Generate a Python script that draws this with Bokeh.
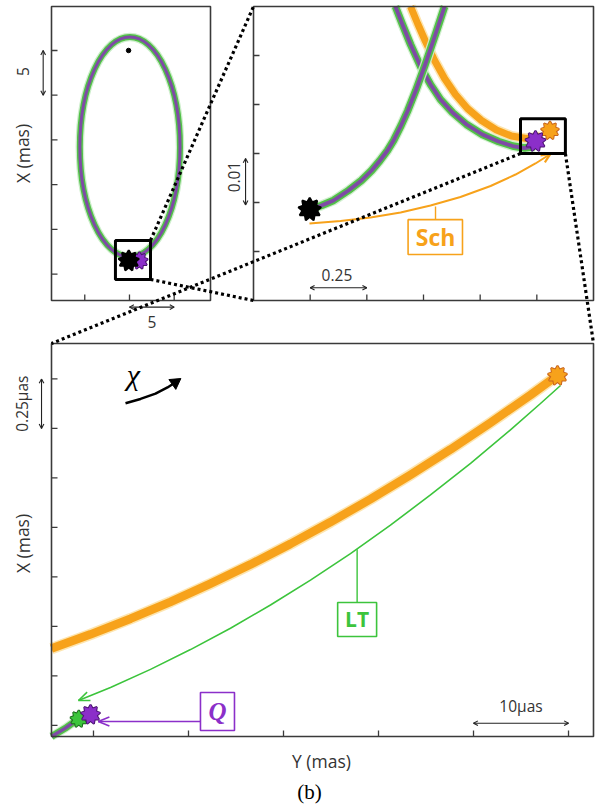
import numpy as np
from bokeh.plotting import figure
from bokeh.models import Range1d
from bokeh.core.properties import value
from bokeh.embed import file_html
from bokeh.resources import INLINE

FONT = "Open Sans"
SERIF = "Liberation Serif"
FRAME = "#3a3a3a"
TXT = "#333333"
PURPLE, PURPLE_EDGE, PURPLE_LINE = "#8b2fc9", "#4a1470", "#7f4aa6"
ORANGE, ORANGE_EDGE, ORANGE_HALO = "#f7a21b", "#c8641e", "#fde2a6"
GREEN, GREEN_EDGE, GREEN_HALO = "#3cc43c", "#1d6b1d", "#cdeecb"

# ---------------- page (pixels) ----------------
PAGE_X = (0, 598)
PAGE_Y = (0, 807)

# ---------------- panel A : whole orbit, Y / X in mas ----------------
A_Y_RANGE = (-8.72, 9.06)
A_X_RANGE = (-27.96, 4.92)
A_Y_TICKS = [-5, 0, 5]
A_X_TICKS = [0, -5, -10, -15, -20, -25]
A_ORBIT_Y, A_ORBIT_X = 0.05, -10.8
A_ORBIT_W, A_ORBIT_H = 11.2, 24.6
A_FOCUS_Y, A_FOCUS_X = [-0.1], [0.0]
A_BOX = dict(left=-1.57, right=2.35, bottom=-25.6, top=-21.25)
A_STAR_Y = [1.1, -0.08]
A_STAR_X = [-23.5, -23.5]
A_STAR_FILL = [PURPLE, "#000000"]
A_STAR_EDGE = [PURPLE_EDGE, "#000000"]
A_STAR_SIZE = [15, 18]

# ---------------- panel B : zoom on pericentre, mas ----------------
B_Y_RANGE = (0.0, 1.5)
B_X_RANGE = (0.0, 0.06)
B_Y_TICKS = [0.25, 0.5, 0.75, 1.0, 1.25]
B_X_TICKS = [0.01, 0.02, 0.03, 0.04, 0.05]
B_RISE_Y = [0.247, 0.300, 0.353, 0.419, 0.476, 0.521, 0.558, 0.591, 0.618, 0.651, 0.681,
            0.716, 0.756, 0.804, 0.843]
B_RISE_X = [0.01857, 0.01939, 0.02041, 0.02245, 0.02449, 0.02653, 0.02857, 0.03061, 0.03265,
            0.03571, 0.03878, 0.04286, 0.04796, 0.05449, 0.06]
B_DESC_Y = [0.626, 0.657, 0.693, 0.737, 0.781, 0.825, 0.878, 0.940, 1.010, 1.081, 1.143,
            1.196, 1.240]
B_DESC_X = [0.06, 0.05633, 0.05224, 0.04776, 0.04408, 0.04102, 0.03837, 0.03592, 0.03388,
            0.03245, 0.03153, 0.03112, 0.03143]
B_SCH_Y = [0.693, 0.724, 0.759, 0.799, 0.843, 0.891, 0.944, 1.006, 1.072, 1.138, 1.204, 1.266]
B_SCH_X = [0.06, 0.05653, 0.05286, 0.04898, 0.04531, 0.04204, 0.03918, 0.03673, 0.03480,
           0.03357, 0.03306, 0.03347]
B_BOX = dict(left=1.178, right=1.376, bottom=0.0300, top=0.0371)
B_STAR_Y = [0.248, 1.308, 1.244]
B_STAR_X = [0.0186, 0.0347, 0.0325]
B_STAR_FILL = ["#000000", ORANGE, PURPLE]
B_STAR_EDGE = ["#000000", ORANGE_EDGE, PURPLE_EDGE]
B_STAR_SIZE = [20, 16, 18]
B_SCHARROW_Y = [0.247, 0.384, 0.516, 0.649, 0.781, 0.913, 1.046, 1.156, 1.244, 1.310]
B_SCHARROW_X = [0.01571, 0.01622, 0.01694, 0.01796, 0.01939, 0.02112, 0.02337, 0.02571,
                0.02796, 0.0299]
B_SCH_LABEL = dict(y=0.803, x=0.01286, left=0.682, right=0.922, bottom=0.0094, top=0.0165,
                   lead_top=0.0192)

# ---------------- panel C : zoom on the stars, micro-arcsec ----------------
C_Y_RANGE = (5.58, 62.63)
C_X_RANGE = (0.194, 2.179)
C_Y_TICKS = [10, 20, 30, 40, 50, 60]
C_X_TICKS = [0.25, 0.5, 0.75, 1.0, 1.25, 1.5, 1.75, 2.0]
C_SCH_Y = [5.58, 9.69, 13.90, 18.11, 22.32, 26.53, 30.74, 34.95, 39.16, 43.37, 47.58, 51.79,
           56.0, 58.84]
C_SCH_X = [0.638, 0.710, 0.789, 0.874, 0.966, 1.063, 1.167, 1.277, 1.393, 1.516, 1.644, 1.779,
           1.919, 2.018]
C_Q_Y = [5.58, 7.0, 8.4]
C_Q_X = [0.194, 0.235, 0.283]
C_LT_Y = [59.16, 57.05, 53.89, 49.69, 45.47, 41.26, 37.05, 32.84, 28.63, 24.42, 20.21, 16.0,
          11.79, 8.42]
C_LT_X = [1.967, 1.876, 1.743, 1.574, 1.414, 1.262, 1.118, 0.984, 0.858, 0.741, 0.633, 0.533,
          0.442, 0.376]
C_STAR_Y = [58.84, 8.45, 9.69]
C_STAR_X = [2.017, 0.283, 0.305]
C_STAR_FILL = [ORANGE, GREEN, PURPLE]
C_STAR_EDGE = [ORANGE_EDGE, GREEN_EDGE, PURPLE_EDGE]
C_STAR_SIZE = [17, 15, 17]
C_LT_LABEL = dict(y=37.75, x=0.785, left=35.7, right=39.8, bottom=0.699, top=0.871,
                  lead_top=1.14)
C_Q_ARROW_Y = [10.5, 21.26]
C_Q_ARROW_X = [0.270, 0.270]
C_Q_LABEL = dict(y=23.05, x=0.320, left=21.26, right=24.84, bottom=0.224, top=0.416)
C_CHI_TEXT = dict(y=14.2, x=2.02)
C_CHI_ARROW_Y = [13.37, 14.95, 16.53, 17.79, 18.6]
C_CHI_ARROW_X = [1.877, 1.899, 1.926, 1.957, 1.982]

# scale bars: (panel, orientation, position, start, end, label, label_y, label_x, label_angle)
BARS = [
    ("A", "v", -9.65, -5.0, 0.0, "5", -11.86, -2.35, 90),
    ("A", "h", -28.7, 0.0, 5.0, "5", 2.5, -30.4, 0),
    ("B", "v", -0.035, 0.0195, 0.029, "0.01", -0.087, 0.0252, 90),
    ("B", "h", 0.0026, 0.25, 0.5, "0.25", 0.368, 0.0052, 0),
    ("C", "v", 4.53, 1.75, 2.0, "0.25\u00b5as", 2.45, 1.875, 90),
    ("C", "h", 0.261, 50.0, 60.0, "10\u00b5as", 55.0, 0.35, 0),
]

# page-level texts (page pixels)
PAGE_TEXT = ["X (mas)", "X (mas)", "Y (mas)"]
PAGE_TEXT_X = [22, 22, 321]
PAGE_TEXT_Y = [153, 543, 760]
PAGE_TEXT_ANGLE = [90, 90, 0]
CAPTION = "(b)"

PANELS = {
    "A": dict(fx=(51, 210), fy=(6, 300), Y=A_Y_RANGE, X=A_X_RANGE),
    "B": dict(fx=(253, 593), fy=(6, 300), Y=B_Y_RANGE, X=B_X_RANGE),
    "C": dict(fx=(51, 593), fy=(343, 736), Y=C_Y_RANGE, X=C_X_RANGE),
}

p = figure(width=598, height=807, x_range=Range1d(*PAGE_X), y_range=Range1d(PAGE_Y[1], PAGE_Y[0]),
           output_backend="svg", toolbar_location=None, min_border=0,
           x_axis_location=None, y_axis_location=None)
p.grid.visible = False
p.outline_line_color = None


def make_panel(key):
    s = PANELS[key]
    return p.subplot(x_source=Range1d(*s["Y"]), y_source=Range1d(*s["X"]),
                     x_target=Range1d(*s["fx"]), y_target=Range1d(s["fy"][1], s["fy"][0]))


def to_page(key, yv, xv):
    s = PANELS[key]
    fx = s["fx"][0] + (yv - s["Y"][0]) / (s["Y"][1] - s["Y"][0]) * (s["fx"][1] - s["fx"][0])
    fy = s["fy"][1] - (xv - s["X"][0]) / (s["X"][1] - s["X"][0]) * (s["fy"][1] - s["fy"][0])
    return fx, fy


def vhead(xy, yv, xv, back, color, length=7, width=1.2, spread=28):
    xy.ray(x=[yv, yv], y=[xv, xv], angle=[back - spread, back + spread], angle_units="deg",
           length=length, length_units="screen", line_color=color, line_width=width)


def frame(xy, key, yticks, xticks):
    s = PANELS[key]
    y0, y1 = s["Y"]
    x0, x1 = s["X"]
    xy.quad(left=[y0], right=[y1], bottom=[x0], top=[x1], fill_color=None,
            line_color=FRAME, line_width=1.6)
    xy.ray(x=yticks, y=[x0] * len(yticks), angle=90, angle_units="deg", length=6,
           length_units="screen", line_color=FRAME, line_width=1.3)
    xy.ray(x=[y0] * len(xticks), y=xticks, angle=0, angle_units="deg", length=6,
           length_units="screen", line_color=FRAME, line_width=1.3)


def gp_line(xy, ys, xs, w=1.0):
    xy.line(ys, xs, line_width=10 * w, line_color=GREEN_HALO, line_alpha=0.9, line_join="round")
    xy.line(ys, xs, line_width=7.5 * w, line_color="#52c048", line_join="round")
    xy.line(ys, xs, line_width=3.8 * w, line_color=PURPLE_LINE, line_join="round")


def orange_line(xy, ys, xs, w=7):
    xy.line(ys, xs, line_width=w + 3, line_color=ORANGE_HALO, line_alpha=0.9, line_join="round")
    xy.line(ys, xs, line_width=w, line_color=ORANGE, line_join="round")


def stars(xy, ys, xs, fills, edges, sizes):
    for yv, xv, f, e, sz in zip(ys, xs, fills, edges, sizes):
        for a in (0, 40, 80):
            xy.scatter([yv], [xv], marker="triangle", size=sz, angle=a, angle_units="deg",
                       fill_color=f, line_color=e, line_width=2)
        for a in (0, 40, 80):
            xy.scatter([yv], [xv], marker="triangle", size=sz, angle=a, angle_units="deg",
                       fill_color=f, line_color=None)


def label_box(xy, spec, text, color, font, size, style):
    xy.segment(x0=[spec["y"]], y0=[spec["top"]], x1=[spec["y"]], y1=[spec.get("lead_top", spec["top"])],
               line_color=color, line_width=1.4)
    xy.quad(left=[spec["left"]], right=[spec["right"]], bottom=[spec["bottom"]], top=[spec["top"]],
            fill_color="white", line_color=color, line_width=1.6)
    xy.text(x=[spec["y"]], y=[spec["x"]], text=[text], text_align="center", text_baseline="middle",
            text_font=value(font), text_font_size=size, text_font_style=style, text_color=color)


pa, pb, pc = make_panel("A"), make_panel("B"), make_panel("C")
sub = {"A": pa, "B": pb, "C": pc}

# ---- panel A
pa.ellipse(x=[A_ORBIT_Y], y=[A_ORBIT_X], width=[A_ORBIT_W], height=[A_ORBIT_H],
           fill_color=None, line_color=GREEN_HALO, line_width=8.5)
pa.ellipse(x=[A_ORBIT_Y], y=[A_ORBIT_X], width=[A_ORBIT_W], height=[A_ORBIT_H],
           fill_color=None, line_color="#52c048", line_width=6)
pa.ellipse(x=[A_ORBIT_Y], y=[A_ORBIT_X], width=[A_ORBIT_W], height=[A_ORBIT_H],
           fill_color=None, line_color=PURPLE_LINE, line_width=3)
pa.scatter(A_FOCUS_Y, A_FOCUS_X, size=4.5, color="black")
stars(pa, A_STAR_Y, A_STAR_X, A_STAR_FILL, A_STAR_EDGE, A_STAR_SIZE)
frame(pa, "A", A_Y_TICKS, A_X_TICKS)
pa.quad(**{k: [v] for k, v in A_BOX.items()}, fill_color=None, line_color="black", line_width=3)

# ---- panel B
orange_line(pb, B_SCH_Y, B_SCH_X, 7)
gp_line(pb, B_DESC_Y, B_DESC_X)
gp_line(pb, B_RISE_Y, B_RISE_X)
stars(pb, B_STAR_Y, B_STAR_X, B_STAR_FILL, B_STAR_EDGE, B_STAR_SIZE)
pb.line(B_SCHARROW_Y, B_SCHARROW_X, line_color=ORANGE, line_width=2)
vhead(pb, B_SCHARROW_Y[-1], B_SCHARROW_X[-1], 212, ORANGE, length=10, width=2.2, spread=24)
label_box(pb, B_SCH_LABEL, "Sch", ORANGE, FONT, "23px", "bold")
frame(pb, "B", B_Y_TICKS, B_X_TICKS)
pb.quad(**{k: [v] for k, v in B_BOX.items()}, fill_color=None, line_color="black", line_width=3)

# ---- panel C
orange_line(pc, C_SCH_Y, C_SCH_X, 8.5)
gp_line(pc, C_Q_Y, C_Q_X, 0.9)
pc.line(C_LT_Y, C_LT_X, line_color=GREEN, line_width=1.6)
vhead(pc, C_LT_Y[-1], C_LT_X[-1], 22, GREEN, length=12, width=1.6, spread=22)
pc.line(C_Q_ARROW_Y, C_Q_ARROW_X, line_color=PURPLE, line_width=1.4)
vhead(pc, C_Q_ARROW_Y[0], C_Q_ARROW_X[0], 0, PURPLE, length=12, width=1.6, spread=22)
stars(pc, C_STAR_Y, C_STAR_X, C_STAR_FILL, C_STAR_EDGE, C_STAR_SIZE)
label_box(pc, C_LT_LABEL, "LT", GREEN, FONT, "21px", "bold")
label_box(pc, C_Q_LABEL, "Q", PURPLE, SERIF, "25px", "bold italic")
pc.text(x=[C_CHI_TEXT["y"]], y=[C_CHI_TEXT["x"]], text=["\u03c7"], text_align="center",
        text_baseline="middle", text_font=value(SERIF), text_font_size="30px",
        text_font_style="italic", text_color="black")
pc.line(C_CHI_ARROW_Y, C_CHI_ARROW_X, line_color="black", line_width=2.5)
pc.scatter([C_CHI_ARROW_Y[-1]], [C_CHI_ARROW_X[-1]], marker="triangle", size=12, angle=-55,
           angle_units="deg", color="black")
frame(pc, "C", C_Y_TICKS, C_X_TICKS)

# ---- scale bars
for key, orient, at, start, end, lab, ly, lx, la in BARS:
    xy = sub[key]
    if orient == "v":
        xy.segment(x0=[at], y0=[start], x1=[at], y1=[end], line_color="#222", line_width=1.1)
        vhead(xy, at, end, 270, "#222", length=5, width=1.1)
        vhead(xy, at, start, 90, "#222", length=5, width=1.1)
    else:
        xy.segment(x0=[start], y0=[at], x1=[end], y1=[at], line_color="#222", line_width=1.1)
        vhead(xy, end, at, 180, "#222", length=5, width=1.1)
        vhead(xy, start, at, 0, "#222", length=5, width=1.1)
    xy.text(x=[ly], y=[lx], text=[lab], angle=la, angle_units="deg", text_align="center",
            text_baseline="middle", text_font=value(FONT), text_font_size="15.5px", text_color=TXT)

# ---- dotted zoom connectors (page coordinates)
ca1 = to_page("A", A_BOX["right"], A_BOX["top"])
ca2 = to_page("A", A_BOX["right"], A_BOX["bottom"])
cb1 = to_page("B", B_BOX["left"], B_BOX["bottom"])
cb2 = to_page("B", B_BOX["right"], B_BOX["bottom"])
tB1 = to_page("B", B_Y_RANGE[0], B_X_RANGE[1])
tB2 = to_page("B", B_Y_RANGE[0], B_X_RANGE[0])
tC1 = to_page("C", C_Y_RANGE[0], C_X_RANGE[1])
tC2 = to_page("C", C_Y_RANGE[1], C_X_RANGE[1])
starts = [ca1, ca2, cb1, cb2]
ends = [tB1, tB2, tC1, tC2]
p.segment(x0=[s[0] for s in starts], y0=[s[1] for s in starts],
          x1=[e[0] for e in ends], y1=[e[1] for e in ends],
          line_color="black", line_width=3.2, line_dash="3 3")

# ---- page texts
p.text(x=PAGE_TEXT_X, y=PAGE_TEXT_Y, text=PAGE_TEXT, angle=PAGE_TEXT_ANGLE, angle_units="deg",
       text_align="center", text_baseline="middle", text_font=value(FONT),
       text_font_size="17.5px", text_color=TXT)
p.text(x=[309], y=[791], text=[CAPTION], text_align="center", text_baseline="middle",
       text_font=value(SERIF), text_font_size="21px", text_color="black")

open("out.html", "w").write(file_html(p, INLINE))
